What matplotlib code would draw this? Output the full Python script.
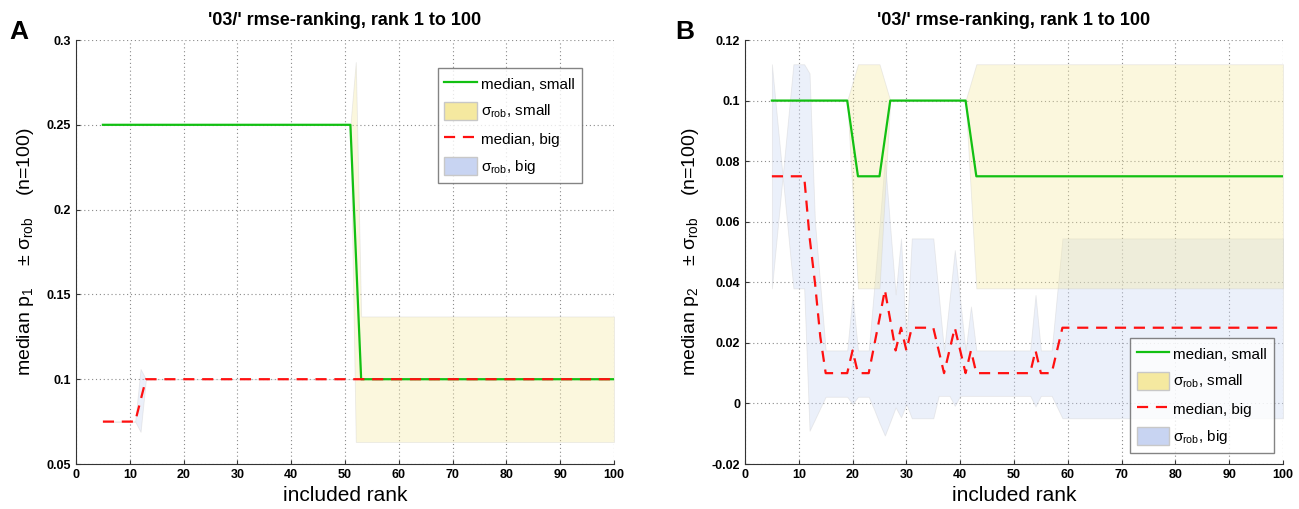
import matplotlib
matplotlib.use('Agg')
import matplotlib.pyplot as plt
from matplotlib.lines import Line2D
from matplotlib.patches import Patch
from matplotlib.ticker import FormatStrFormatter, MultipleLocator

plt.rcParams['font.family'] = ['Liberation Sans', 'DejaVu Sans']
plt.rcParams['mathtext.fontset'] = 'custom'
plt.rcParams['mathtext.rm'] = 'Liberation Sans'
plt.rcParams['mathtext.it'] = 'Liberation Sans'

# ---- panel A: vertices along "included rank" ----
a_rank       = [5, 11, 12, 13, 51, 52, 53, 100]
a_med_small  = [0.25, 0.25, 0.25, 0.25, 0.25, 0.175, 0.1, 0.1]
a_lo_small   = [0.25, 0.25, 0.25, 0.25, 0.25, 0.063, 0.063, 0.063]
a_hi_small   = [0.25, 0.25, 0.25, 0.25, 0.25, 0.287, 0.137, 0.137]
a_med_big    = [0.075, 0.075, 0.0875, 0.1, 0.1, 0.1, 0.1, 0.1]
a_lo_big     = [0.075, 0.075, 0.069, 0.1, 0.1, 0.1, 0.1, 0.1]
a_hi_big     = [0.075, 0.075, 0.106, 0.1, 0.1, 0.1, 0.1, 0.1]

# ---- panel B: ranks 5..60, then 100 ----
b_rank = [5, 6, 7, 8, 9, 10, 11, 12, 13, 14,
          15, 16, 17, 18, 19, 20, 21, 22, 23, 24,
          25, 26, 27, 28, 29, 30, 31, 32, 33, 34,
          35, 36, 37, 38, 39, 40, 41, 42, 43, 44,
          45, 46, 47, 48, 49, 50, 51, 52, 53, 54,
          55, 56, 57, 58, 59, 60, 100]
b_med_small = [0.1, 0.1, 0.1, 0.1, 0.1, 0.1, 0.1, 0.1, 0.1, 0.1,
               0.1, 0.1, 0.1, 0.1, 0.1, 0.0875, 0.075, 0.075, 0.075, 0.075,
               0.075, 0.0875, 0.1, 0.1, 0.1, 0.1, 0.1, 0.1, 0.1, 0.1,
               0.1, 0.1, 0.1, 0.1, 0.1, 0.1, 0.1, 0.0875, 0.075, 0.075,
               0.075, 0.075, 0.075, 0.075, 0.075, 0.075, 0.075, 0.075, 0.075, 0.075,
               0.075, 0.075, 0.075, 0.075, 0.075, 0.075, 0.075]
b_lo_small = [0.1, 0.1, 0.1, 0.1, 0.1, 0.1, 0.1, 0.1, 0.1, 0.1,
              0.1, 0.1, 0.1, 0.1, 0.1, 0.069, 0.038, 0.038, 0.038, 0.038,
              0.038, 0.069, 0.1, 0.1, 0.1, 0.1, 0.1, 0.1, 0.1, 0.1,
              0.1, 0.1, 0.1, 0.1, 0.1, 0.1, 0.1, 0.069, 0.038, 0.038,
              0.038, 0.038, 0.038, 0.038, 0.038, 0.038, 0.038, 0.038, 0.038, 0.038,
              0.038, 0.038, 0.038, 0.038, 0.038, 0.038, 0.038]
b_hi_small = [0.1, 0.1, 0.1, 0.1, 0.1, 0.1, 0.1, 0.1, 0.1, 0.1,
              0.1, 0.1, 0.1, 0.1, 0.1, 0.106, 0.112, 0.112, 0.112, 0.112,
              0.112, 0.106, 0.1, 0.1, 0.1, 0.1, 0.1, 0.1, 0.1, 0.1,
              0.1, 0.1, 0.1, 0.1, 0.1, 0.1, 0.1, 0.106, 0.112, 0.112,
              0.112, 0.112, 0.112, 0.112, 0.112, 0.112, 0.112, 0.112, 0.112, 0.112,
              0.112, 0.112, 0.112, 0.112, 0.112, 0.112, 0.112]
b_med_big = [0.075, 0.075, 0.075, 0.075, 0.075, 0.075, 0.075, 0.055, 0.04, 0.022,
             0.01, 0.01, 0.01, 0.01, 0.01, 0.0175, 0.01, 0.01, 0.01, 0.019,
             0.028, 0.0375, 0.0275, 0.0175, 0.025, 0.0175, 0.025, 0.025, 0.025, 0.025,
             0.025, 0.0175, 0.01, 0.0175, 0.025, 0.0175, 0.01, 0.0175, 0.01, 0.01,
             0.01, 0.01, 0.01, 0.01, 0.01, 0.01, 0.01, 0.01, 0.01, 0.0175,
             0.01, 0.01, 0.01, 0.0175, 0.025, 0.025, 0.025]
b_lo_big = [0.038, 0.0565, 0.075, 0.0565, 0.038, 0.038, 0.038, -0.009, -0.0053, -0.0015,
            0.0022, 0.0022, 0.0022, 0.0022, 0.0022, -0.0002, 0.0022, 0.0022, 0.0022, -0.002,
            -0.0065, -0.0106, -0.006, -0.0013, -0.0046, -0.0002, -0.0049, -0.0049, -0.0049, -0.0049,
            -0.0049, 0.0025, 0.0025, 0.0025, -0.0008, 0.0025, 0.0025, 0.0025, 0.0025, 0.0025,
            0.0025, 0.0025, 0.0025, 0.0025, 0.0025, 0.0025, 0.0025, 0.0025, 0.0025, -0.001,
            0.0025, 0.0025, 0.0025, -0.0012, -0.0049, -0.0049, -0.0049]
b_hi_big = [0.112, 0.0935, 0.075, 0.0935, 0.112, 0.112, 0.112, 0.109, 0.06, 0.039,
            0.0175, 0.0175, 0.0175, 0.0175, 0.0175, 0.036, 0.0175, 0.0175, 0.0175, 0.038,
            0.059, 0.0805, 0.058, 0.036, 0.0545, 0.0205, 0.0545, 0.0545, 0.0545, 0.0545,
            0.0545, 0.036, 0.0174, 0.034, 0.0506, 0.034, 0.0174, 0.032, 0.0175, 0.0175,
            0.0175, 0.0175, 0.0175, 0.0175, 0.0175, 0.0175, 0.0175, 0.0175, 0.0175, 0.0358,
            0.0175, 0.0175, 0.0175, 0.036, 0.0545, 0.0545, 0.0545]

title = "'03/' rmse-ranking, rank 1 to 100"
labels = ['median, small', r'$\sigma_{rob}$, small', 'median, big', r'$\sigma_{rob}$, big']

green = '#12c012'
red = '#ff1010'
yellow = '#f5e9a0'
blue = '#c8d4f2'
edge = '#c8c8c8'


def panel(ax, rank, med_s, lo_s, hi_s, med_b, lo_b, hi_b, ylim, ystep, ylab, leg_anchor):
    ax.fill_between(rank, lo_b, hi_b, facecolor=blue, alpha=0.35, edgecolor=edge, linewidth=0.6, zorder=1)
    ax.fill_between(rank, lo_s, hi_s, facecolor=yellow, alpha=0.35, edgecolor=edge, linewidth=0.6, zorder=1.1)
    ax.plot(rank, med_s, color=green, lw=1.6, zorder=3)
    ax.plot(rank, med_b, color=red, lw=1.6, ls=(0, (5, 3.5)), zorder=3)
    ax.set_xlim(0, 100)
    ax.set_ylim(*ylim)
    ax.xaxis.set_major_locator(MultipleLocator(10))
    ax.yaxis.set_major_locator(MultipleLocator(ystep))
    ax.yaxis.set_major_formatter(FormatStrFormatter('%g'))
    ax.grid(True, color='#8a8a8a', linestyle=(0, (1, 2.5)), linewidth=0.8)
    ax.set_axisbelow(True)
    for s in ['top', 'right']:
        ax.spines[s].set_visible(False)
    for s in ['left', 'bottom']:
        ax.spines[s].set_color('#333333')
        ax.spines[s].set_linewidth(0.8)
    ax.tick_params(direction='in', length=3, labelsize=9, colors='#333333', labelcolor='black')
    for t in ax.get_xticklabels() + ax.get_yticklabels():
        t.set_fontweight('bold')
    ax.set_xlabel('included rank', fontsize=15, labelpad=4)
    ax.set_ylabel(ylab, fontsize=14, labelpad=8)
    ax.set_title(title, fontsize=13, fontweight='bold', pad=11)
    handles = [Line2D([], [], color=green, lw=1.6),
               Patch(facecolor=yellow, edgecolor=edge),
               Line2D([], [], color=red, lw=1.6, ls=(0, (5, 3.5))),
               Patch(facecolor=blue, edgecolor=edge)]
    leg = ax.legend(handles, labels, loc='upper left', bbox_to_anchor=leg_anchor,
                    fontsize=11, frameon=True, fancybox=False, edgecolor='#666666',
                    labelspacing=0.62, handlelength=2.1, handleheight=1.4,
                    handletextpad=0.3, borderpad=0.45, borderaxespad=0)
    leg.get_frame().set_linewidth(1.0)


fig = plt.figure(figsize=(12.99, 5.09), dpi=100)
ax1 = fig.add_axes([0.0585, 0.0884, 0.4142, 0.833])
ax2 = fig.add_axes([0.5735, 0.0884, 0.4142, 0.833])

panel(ax1, a_rank, a_med_small, a_lo_small, a_hi_small, a_med_big, a_lo_big, a_hi_big,
      (0.05, 0.3), 0.05, r'median p$_1$    $\pm$ $\sigma_{rob}$    (n=100)', (0.672, 0.934))
panel(ax2, b_rank, b_med_small, b_lo_small, b_hi_small, b_med_big, b_lo_big, b_hi_big,
      (-0.02, 0.12), 0.02, r'median p$_2$    $\pm$ $\sigma_{rob}$    (n=100)', (0.715, 0.297))

fig.text(0.007, 0.924, 'A', fontsize=19, fontweight='bold')
fig.text(0.520, 0.924, 'B', fontsize=19, fontweight='bold')

fig.savefig('out.png', dpi=100)
